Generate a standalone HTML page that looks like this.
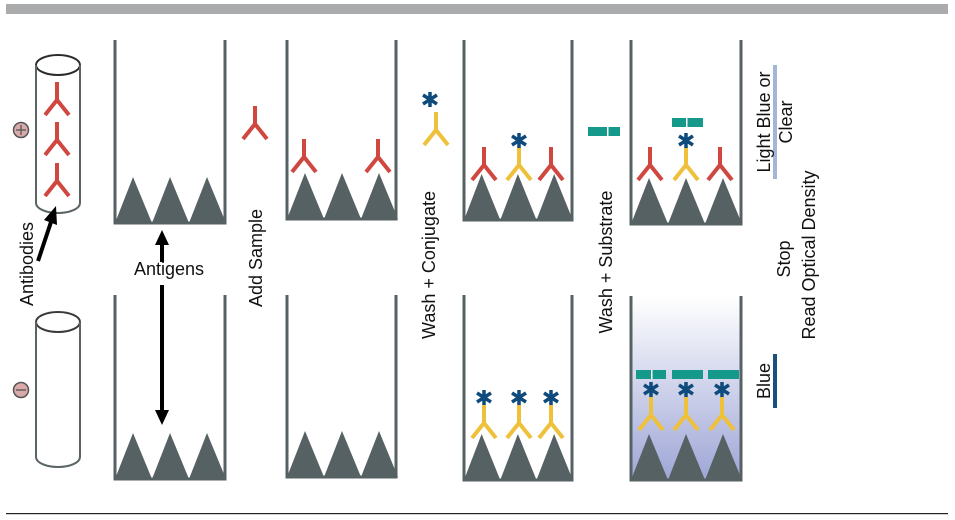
<!DOCTYPE html>
<html><head><meta charset="utf-8"><style>body{margin:0;background:#fff}svg{display:block}</style></head><body>
<svg width="955" height="520" viewBox="0 0 955 520" xmlns="http://www.w3.org/2000/svg" font-family="Liberation Sans, sans-serif">
<defs>
<linearGradient id="g" x1="0" y1="0" x2="0" y2="1"><stop offset="0" stop-color="#fff"/><stop offset="1" stop-color="#9ea6d6"/></linearGradient>
<g id="tri3"><path d="M0,0 L18,-46 L37,0 L55,-46 L74,0 L92,-46 L111,0 Z" fill="#566164"/></g>
<g id="ry" stroke="#d0473f" stroke-width="4" fill="none"><path d="M0,0 V18 M-12,33 L0,18 L12,33"/></g>
<g id="yy" stroke="#efc13a" stroke-width="4" fill="none"><path d="M0,0 V18 M-12,33 L0,18 L12,33"/></g>
<g id="st" stroke="#0f4a7d" stroke-width="3.5"><path d="M0,-8 V7 M-7,-5 L7,4 M7,-5 L-7,4"/></g>
</defs>
<rect x="6" y="4" width="942" height="10" fill="#a9abad"/>
<rect x="6" y="513" width="942" height="1.2" fill="#222"/>
<g fill="none" stroke="#2b2b2b" stroke-width="2">
<ellipse cx="58" cy="65" rx="22" ry="10"/><path d="M36,65 V203 A22,10 0 0 0 80,203 V65" stroke="#5a6467"/>
<ellipse cx="58" cy="322" rx="22" ry="10" stroke="#3a3a3a"/><path d="M36,322 V457 A22,10 0 0 0 80,457 V322" stroke="#5a6467"/>
</g>
<use href="#ry" x="57" y="82"/><use href="#ry" x="57" y="122"/><use href="#ry" x="57" y="163"/>
<circle cx="21" cy="130" r="7.5" fill="#d9aaa9" stroke="#555" stroke-width="1.5"/><path d="M16,130h10M21,125v10" stroke="#555" stroke-width="1.3"/>
<circle cx="21" cy="390" r="7.5" fill="#d9aaa9" stroke="#555" stroke-width="1.5"/><path d="M16,390h10" stroke="#555" stroke-width="1.3"/>
<g fill="none" stroke="#566164" stroke-width="3">
<path d="M115,40 V223 H225 V40"/><path d="M115,295 V479 H225 V295"/>
<path d="M287,40 V219 H396 V40"/><path d="M287,295 V477 H396 V295"/>
<path d="M464,40 V220 H572 V40"/><path d="M464,295 V480 H572 V295"/>
<path d="M631,40 V224 H741 V40"/>
</g>
<rect x="631" y="297" width="110" height="183" fill="url(#g)"/>
<path d="M631,296 V480 H741 V296" fill="none" stroke="#566164" stroke-width="3"/>
<use href="#tri3" x="115" y="223"/><use href="#tri3" x="115" y="479"/>
<use href="#tri3" x="287" y="219"/><use href="#tri3" x="287" y="477"/>
<use href="#tri3" transform="translate(464,220) scale(0.98,1)"/><use href="#tri3" transform="translate(464,480) scale(0.98,1)"/>
<use href="#tri3" x="631" y="224"/><use href="#tri3" x="631" y="480"/>
<use href="#ry" x="255" y="106"/>
<use href="#ry" x="304" y="139"/><use href="#ry" x="378" y="139"/>
<use href="#ry" x="484" y="147"/><use href="#yy" x="519" y="147"/><use href="#ry" x="551" y="147"/><use href="#st" x="519" y="141"/>
<use href="#ry" x="650" y="147"/><use href="#yy" x="686" y="147"/><use href="#ry" x="720" y="147"/><use href="#st" x="686" y="141"/>
<rect x="672" y="118" width="31" height="9" fill="#14998a"/><rect x="686" y="118" width="1.5" height="9" fill="#fff"/>
<use href="#yy" x="436" y="112"/><use href="#st" x="430" y="100"/>
<rect x="588" y="127" width="32" height="9" fill="#14998a"/><rect x="607" y="127" width="1.5" height="9" fill="#fff"/>
<use href="#yy" x="484" y="405"/><use href="#yy" x="519" y="405"/><use href="#yy" x="551" y="405"/>
<use href="#st" x="484" y="398"/><use href="#st" x="519" y="398"/><use href="#st" x="551" y="398"/>
<use href="#yy" x="651" y="397"/><use href="#yy" x="686" y="397"/><use href="#yy" x="722" y="397"/>
<use href="#st" x="651" y="390"/><use href="#st" x="686" y="390"/><use href="#st" x="722" y="390"/>
<rect x="636" y="370" width="30" height="9" fill="#14998a"/><rect x="672" y="370" width="31" height="9" fill="#14998a"/><rect x="708" y="370" width="31" height="9" fill="#14998a"/>
<rect x="651" y="370" width="1.5" height="9" fill="#fff"/>
<g stroke="#000" stroke-width="4"><path d="M162,262 V240"/><path d="M162,285 V412"/><path d="M38,261 L51,222"/></g>
<path d="M162,230 L155,245 L169,245 Z M162,425 L155,410 L169,410 Z M56,206 L44,220 L57,225 Z" fill="#000"/>
<rect x="773" y="65" width="4" height="114" fill="#a3b5d8"/>
<rect x="773" y="354" width="4" height="54" fill="#1b4f7d"/>
<g font-size="18" fill="#111">
<text x="169" y="275" text-anchor="middle">Antigens</text>
<text transform="translate(33,264) rotate(-90)" text-anchor="middle">Antibodies</text>
<text transform="translate(262,258) rotate(-90)" text-anchor="middle">Add Sample</text>
<text transform="translate(435,265) rotate(-90)" text-anchor="middle">Wash + Conjugate</text>
<text transform="translate(612,262) rotate(-90)" text-anchor="middle">Wash + Substrate</text>
<text transform="translate(770,122) rotate(-90)" text-anchor="middle">Light Blue or</text>
<text transform="translate(792,122) rotate(-90)" text-anchor="middle">Clear</text>
<text transform="translate(790,259) rotate(-90)" text-anchor="middle">Stop</text>
<text transform="translate(815,255) rotate(-90)" text-anchor="middle">Read Optical Density</text>
<text transform="translate(770,381) rotate(-90)" text-anchor="middle">Blue</text>
</g>
</svg>
</body></html>
